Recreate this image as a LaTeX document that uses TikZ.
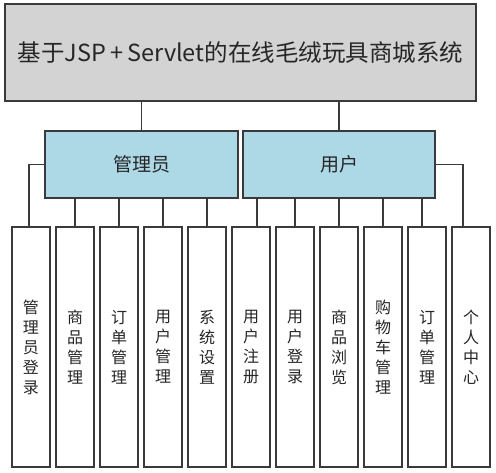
\documentclass[tikz,border=0pt]{standalone}
\usepackage{fontspec}
\newfontfamily\cjk{Noto Sans CJK SC}
\definecolor{titlegray}{HTML}{D3D3D3}
\definecolor{rolblue}{HTML}{ADD8E6}
\definecolor{linegray}{HTML}{3A3A3A}
\tikzset{
	box/.style={draw=linegray, line width=1.2pt, inner sep=0pt, outer sep=0pt, text=black!85},
	titlebox/.style={box, fill=titlegray, minimum width=471, minimum height=97, font=\cjk\fontsize{23.5}{28}\selectfont},
	rolebox/.style={box, fill=rolblue, minimum width=193, minimum height=67, font=\cjk\fontsize{19}{22}\selectfont},
	funcbox/.style={box, fill=white, minimum width=38, minimum height=240, align=center, font=\cjk\fontsize{16}{20}\selectfont},
	link/.style={draw=linegray, line width=1.2pt}
}

\begin{document}
\begin{tikzpicture}[x=1pt, y=-1pt]
			\useasboundingbox (0,0) rectangle (496,473);
			\node[titlebox] (sys) at (240.5,52.5) {基于JSP\,+\,Servlet的在线毛绒玩具商城系统};
			\node[rolebox] (admin) at (141.5,164.5) {管理员};
			\node[rolebox, minimum width=192] (user) at (339,164.5) {用户};
			% admin side
			\node[funcbox] (alogin) at (31,347) {管\\理\\员\\登\\录};
			\node[funcbox] (goods) at (75,347) {商\\品\\管\\理};
			\node[funcbox] (aorder) at (119,347) {订\\单\\管\\理};
			\node[funcbox] (umanage) at (163,347) {用\\户\\管\\理};
			\node[funcbox] (setting) at (207,347) {系\\统\\设\\置};
			% user side
			\node[funcbox] (reg) at (251,347) {用\\户\\注\\册};
			\node[funcbox] (ulogin) at (295,347) {用\\户\\登\\录};
			\node[funcbox] (browse) at (339,347) {商\\品\\浏\\览};
			\node[funcbox] (cart) at (383,347) {购\\物\\车\\管\\理};
			\node[funcbox] (uorder) at (427,347) {订\\单\\管\\理};
			\node[funcbox] (center) at (471,347) {个\\人\\中\\心};
			\draw[link] (admin.north) -- (admin.north |- sys.south);
			\draw[link] (user.north) -- (user.north |- sys.south);
			\draw[link] (admin.west) -| ([xshift=-2]alogin.north);
			\draw[link] (goods.north) -- (goods.north |- admin.south);
			\draw[link] (aorder.north) -- (aorder.north |- admin.south);
			\draw[link] (umanage.north) -- (umanage.north |- admin.south);
			\draw[link] (setting.north) -- (setting.north |- admin.south);
			\draw[link] ([xshift=6]reg.north) -- ([xshift=6]reg.north |- user.south);
			\draw[link] (ulogin.north) -- (ulogin.north |- user.south);
			\draw[link] (browse.north) -- (browse.north |- user.south);
			\draw[link] (cart.north) -- (cart.north |- user.south);
			\draw[link] ([xshift=-5]uorder.north) -- ([xshift=-5]uorder.north |- user.south);
			\draw[link] (user.east) -| ([xshift=-8]center.north);
\end{tikzpicture}
\end{document}
